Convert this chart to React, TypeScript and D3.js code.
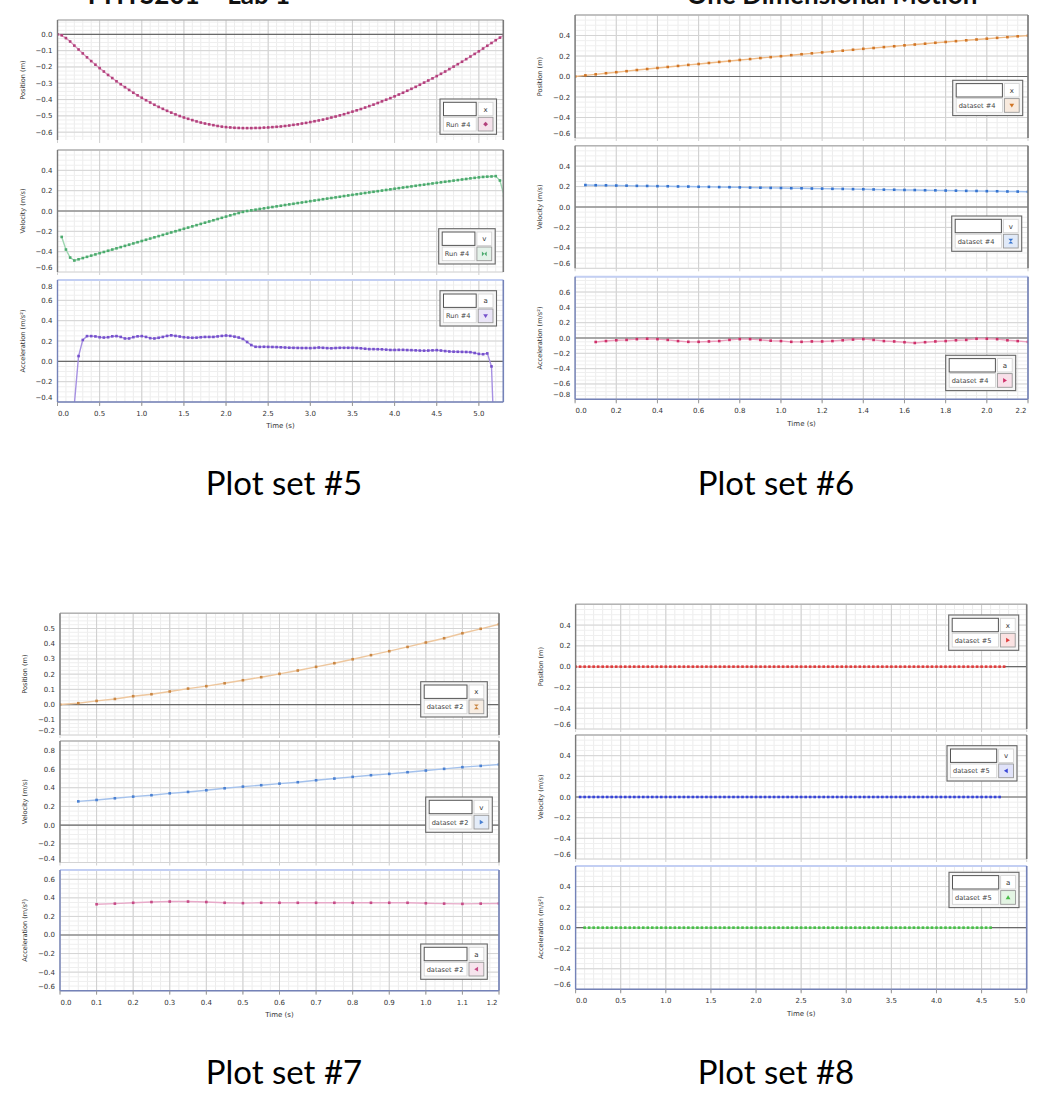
import React from 'react';
import * as d3 from 'd3';

// ---------------- DATA ----------------
// Plot set #5 (Run #4)
const set5PosTime = [0, 0.05]; // start, sample interval
const set5PosValues = [
  0, -0.006, -0.023, -0.044, -0.069, -0.093, -0.117, -0.141, -0.164, -0.186,
  -0.207, -0.228, -0.249, -0.268, -0.288, -0.306, -0.324, -0.341, -0.358, -0.374,
  -0.389, -0.404, -0.418, -0.432, -0.445, -0.457, -0.469, -0.48, -0.491, -0.501,
  -0.51, -0.518, -0.526, -0.534, -0.541, -0.547, -0.552, -0.557, -0.562, -0.566,
  -0.569, -0.571, -0.573, -0.574, -0.575, -0.575,
  -0.575, -0.574, -0.574, -0.572, -0.571, -0.569, -0.567, -0.565, -0.562, -0.559,
  -0.555, -0.552, -0.547, -0.543, -0.538, -0.533, -0.528, -0.523, -0.517, -0.51,
  -0.504, -0.497, -0.49, -0.482, -0.474, -0.466, -0.458, -0.449, -0.44, -0.431,
  -0.421, -0.411, -0.401, -0.391, -0.38, -0.369, -0.358, -0.346, -0.334, -0.322,
  -0.309, -0.296, -0.283, -0.27, -0.256, -0.242, -0.228, -0.213, -0.198, -0.183,
  -0.168, -0.152, -0.136, -0.12, -0.104, -0.087, -0.07, -0.053, -0.036, -0.02, -0.004,
];
const set5VelTime = [0.05, 0.05];
const set5VelValues = [
  -0.255, -0.379, -0.458, -0.487, -0.475, -0.463, -0.451, -0.439, -0.427, -0.415,
  -0.403, -0.391, -0.379, -0.367, -0.355, -0.343, -0.331, -0.319, -0.307, -0.295,
  -0.283, -0.271, -0.259, -0.247, -0.235, -0.223, -0.211, -0.199, -0.187, -0.175,
  -0.163, -0.151, -0.139, -0.127, -0.115, -0.103, -0.091, -0.079, -0.067, -0.055,
  -0.043, -0.031, -0.02, -0.009, 0.0,
  0.007, 0.013, 0.02, 0.026, 0.033, 0.039, 0.046, 0.052, 0.059, 0.065,
  0.071, 0.078, 0.084, 0.09, 0.097, 0.103, 0.109, 0.116, 0.122, 0.128,
  0.134, 0.14, 0.147, 0.153, 0.159, 0.165, 0.171, 0.177, 0.183, 0.189,
  0.195, 0.201, 0.207, 0.213, 0.219, 0.225, 0.231, 0.236, 0.242, 0.248,
  0.254, 0.259, 0.265, 0.271, 0.277, 0.282, 0.288, 0.293, 0.299, 0.304,
  0.31, 0.315, 0.321, 0.326, 0.331, 0.335, 0.338, 0.34, 0.343, 0.3, 0.15,
];
const set5AccTime = [0.2, 0.05];
const set5AccValues = [
  -0.42, 0.052, 0.21, 0.248, 0.248, 0.245, 0.237, 0.234, 0.237, 0.246,
  0.248, 0.24, 0.225, 0.225, 0.238, 0.246, 0.248, 0.24, 0.228, 0.225,
  0.232, 0.24, 0.25, 0.256, 0.25, 0.244, 0.237, 0.234, 0.232, 0.233,
  0.237, 0.24, 0.24, 0.24, 0.245, 0.25, 0.254, 0.25, 0.243, 0.234,
  0.22, 0.19, 0.16, 0.143, 0.142, 0.143, 0.142, 0.141, 0.14, 0.138,
  0.136, 0.134, 0.133, 0.132, 0.131, 0.131, 0.13, 0.132, 0.136, 0.133,
  0.13, 0.128, 0.131, 0.133, 0.133, 0.133, 0.133, 0.131, 0.128, 0.124,
  0.12, 0.12, 0.119, 0.118, 0.115, 0.112, 0.112, 0.113, 0.113, 0.111,
  0.11, 0.108, 0.106, 0.105, 0.106, 0.108, 0.11, 0.106, 0.101, 0.097,
  0.095, 0.094, 0.093, 0.092, 0.09, 0.082, 0.073, 0.07, 0.078, -0.05, -1.2,
];

// Plot set #6 (dataset #4)
const set6PosTime = [0, 0.05];
const set6PosValues = [
  0, 0.011, 0.021, 0.032, 0.042, 0.052, 0.063, 0.073, 0.083, 0.093,
  0.103, 0.113, 0.122, 0.132, 0.142, 0.151, 0.161, 0.17, 0.18, 0.189,
  0.198, 0.208, 0.217, 0.226, 0.235, 0.244, 0.252, 0.261, 0.27, 0.278,
  0.287, 0.295, 0.304, 0.312, 0.32, 0.329, 0.337, 0.345, 0.353, 0.361,
  0.369, 0.377, 0.384, 0.392, 0.399,
];
const set6VelTime = [0.05, 0.05];
const set6VelValues = [
  0.215, 0.213, 0.212, 0.21, 0.209, 0.207, 0.206, 0.204, 0.203, 0.201,
  0.2, 0.198, 0.197, 0.195, 0.194, 0.192, 0.19, 0.189, 0.187, 0.186,
  0.184, 0.183, 0.181, 0.18, 0.178, 0.177, 0.175, 0.174, 0.172, 0.17,
  0.169, 0.167, 0.166, 0.164, 0.163, 0.161, 0.16, 0.158, 0.157, 0.155,
  0.154, 0.152, 0.151, 0.149,
];
const set6AccTime = [0.1, 0.05];
const set6AccValues = [
  -0.052, -0.04, -0.03, -0.025, -0.015, -0.01, -0.015, -0.025, -0.04, -0.05,
  -0.05, -0.045, -0.04, -0.025, -0.015, -0.015, -0.025, -0.035, -0.04, -0.05,
  -0.05, -0.045, -0.045, -0.04, -0.03, -0.02, -0.015, -0.025, -0.04, -0.045,
  -0.055, -0.065, -0.055, -0.045, -0.04, -0.03, -0.025, -0.01, -0.01, -0.015,
  -0.03, -0.04, -0.05,
];

// Plot set #7 (dataset #2)
const set7PosTime = [0, 0.05];
const set7PosValues = [
  0, 0.009, 0.024, 0.037, 0.055, 0.068, 0.086, 0.105, 0.121, 0.14,
  0.16, 0.18, 0.202, 0.224, 0.248, 0.272, 0.298, 0.325, 0.351, 0.379,
  0.408, 0.436, 0.469, 0.498, 0.528,
];
const set7VelTime = [0.05, 0.05];
const set7VelValues = [
  0.254, 0.269, 0.287, 0.305, 0.32, 0.34, 0.355, 0.373, 0.394, 0.412,
  0.427, 0.444, 0.459, 0.48, 0.498, 0.516, 0.534, 0.548, 0.566, 0.584,
  0.602, 0.62, 0.634, 0.649,
];
const set7AccTime = [0.1, 0.05];
const set7AccValues = [
  0.331, 0.338, 0.347, 0.355, 0.36, 0.36, 0.355, 0.347, 0.343, 0.347,
  0.347, 0.347, 0.347, 0.347, 0.347, 0.347, 0.347, 0.347, 0.342, 0.338,
  0.335, 0.338, 0.34,
];

// Plot set #8 (dataset #5) - everything reads 0
const set8PosTime = [0, 0.05];
const set8PosValues = [
  0, 0, 0, 0, 0, 0, 0, 0, 0, 0, 0, 0, 0, 0, 0, 0, 0, 0, 0, 0,
  0, 0, 0, 0, 0, 0, 0, 0, 0, 0, 0, 0, 0, 0, 0, 0, 0, 0, 0, 0,
  0, 0, 0, 0, 0, 0, 0, 0, 0, 0, 0, 0, 0, 0, 0, 0, 0, 0, 0, 0,
  0, 0, 0, 0, 0, 0, 0, 0, 0, 0, 0, 0, 0, 0, 0, 0, 0, 0, 0, 0,
  0, 0, 0, 0, 0, 0, 0, 0, 0, 0, 0, 0, 0, 0, 0, 0,
];
const set8VelTime = [0.05, 0.05];
const set8VelValues = [
  0, 0, 0, 0, 0, 0, 0, 0, 0, 0, 0, 0, 0, 0, 0, 0, 0, 0, 0, 0,
  0, 0, 0, 0, 0, 0, 0, 0, 0, 0, 0, 0, 0, 0, 0, 0, 0, 0, 0, 0,
  0, 0, 0, 0, 0, 0, 0, 0, 0, 0, 0, 0, 0, 0, 0, 0, 0, 0, 0, 0,
  0, 0, 0, 0, 0, 0, 0, 0, 0, 0, 0, 0, 0, 0, 0, 0, 0, 0, 0, 0,
  0, 0, 0, 0, 0, 0, 0, 0, 0, 0, 0, 0, 0, 0,
];
const set8AccTime = [0.1, 0.05];
const set8AccValues = [
  0, 0, 0, 0, 0, 0, 0, 0, 0, 0, 0, 0, 0, 0, 0, 0, 0, 0, 0, 0,
  0, 0, 0, 0, 0, 0, 0, 0, 0, 0, 0, 0, 0, 0, 0, 0, 0, 0, 0, 0,
  0, 0, 0, 0, 0, 0, 0, 0, 0, 0, 0, 0, 0, 0, 0, 0, 0, 0, 0, 0,
  0, 0, 0, 0, 0, 0, 0, 0, 0, 0, 0, 0, 0, 0, 0, 0, 0, 0, 0, 0,
  0, 0, 0, 0, 0, 0, 0, 0, 0, 0, 0,
];

// Tick labels
const set5XTicks = [0, 0.5, 1.0, 1.5, 2.0, 2.5, 3.0, 3.5, 4.0, 4.5, 5.0];
const set6XTicks = [0, 0.2, 0.4, 0.6, 0.8, 1.0, 1.2, 1.4, 1.6, 1.8, 2.0, 2.2];
const set7XTicks = [0, 0.1, 0.2, 0.3, 0.4, 0.5, 0.6, 0.7, 0.8, 0.9, 1.0, 1.1, 1.2];
const set8XTicks = [0, 0.5, 1.0, 1.5, 2.0, 2.5, 3.0, 3.5, 4.0, 4.5, 5.0];

const set5PosTicks = [0, -0.1, -0.2, -0.3, -0.4, -0.5, -0.6];
const set5VelTicks = [0.4, 0.2, 0, -0.2, -0.4, -0.6];
const set5AccTicks = [0.8, 0.6, 0.4, 0.2, 0, -0.2, -0.4];
const set6PosTicks = [0.4, 0.2, 0, -0.2, -0.4, -0.6];
const set6VelTicks = [0.4, 0.2, 0, -0.2, -0.4, -0.6];
const set6AccTicks = [0.6, 0.4, 0.2, 0, -0.2, -0.4, -0.6, -0.8];
const set7PosTicks = [0.5, 0.4, 0.3, 0.2, 0.1, 0, -0.1, -0.2];
const set7VelTicks = [0.8, 0.6, 0.4, 0.2, 0, -0.2, -0.4];
const set7AccTicks = [0.6, 0.4, 0.2, 0, -0.2, -0.4, -0.6];
const set8PosTicks = [0.4, 0.2, 0, -0.2, -0.4, -0.6];
const set8VelTicks = [0.4, 0.2, 0, -0.2, -0.4, -0.6];
const set8AccTicks = [0.4, 0.2, 0, -0.2, -0.4, -0.6];

const axisTitles = ['Position (m)', 'Velocity (m/s)', 'Acceleration (m/s²)'];
const legendLetters = ['x', 'v', 'a'];
const plotSetNames = ['Plot set #5', 'Plot set #6', 'Plot set #7', 'Plot set #8'];
const runNames = ['Run #4', 'dataset #4', 'dataset #2', 'dataset #5'];
const pageTitles = ['PHYS201 – Lab 1', 'One Dimensional Motion'];

// ---------------- LAYOUT ----------------
type PanelCfg = {
  top: number; bottom: number; domain: [number, number]; ticks: number[];
  major: number; minor: number; time: number[]; values: number[];
  color: string; lineColor: string; symbol: string; legend: [number, number];
};
type SetCfg = {
  left: number; right: number; xDomain: [number, number]; xTicks: number[];
  xMajor: number; xMinor: number; name: string; run: string; legendW: number;
  labelX: number; labelY: number; panels: PanelCfg[];
};

const SETS: SetCfg[] = [
  {
    left: 57.5, right: 503.3, xDomain: [0, 5.29], xTicks: set5XTicks, xMajor: 0.5, xMinor: 0.1,
    name: plotSetNames[0], run: runNames[0], legendW: 56.5, labelX: 284, labelY: 494.5,
    panels: [
      { top: 20, bottom: 140, domain: [-0.648, 0.088], ticks: set5PosTicks, major: 0.1, minor: 0.025,
        time: set5PosTime, values: set5PosValues, color: '#b3407c', lineColor: '#dda0c2', symbol: 'diamond', legend: [440, 99] },
      { top: 150, bottom: 272, domain: [-0.6, 0.6], ticks: set5VelTicks, major: 0.2, minor: 0.05,
        time: set5VelTime, values: set5VelValues, color: '#4caa6e', lineColor: '#9dd6b0', symbol: 'bowtieH', legend: [438.7, 228.7] },
      { top: 280, bottom: 402, domain: [-0.4, 0.8], ticks: set5AccTicks, major: 0.2, minor: 0.05,
        time: set5AccTime, values: set5AccValues, color: '#7650cc', lineColor: '#a690e2', symbol: 'triDown', legend: [440, 290.7] },
    ],
  },
  {
    left: 575.1, right: 1028, xDomain: [0, 2.2], xTicks: set6XTicks, xMajor: 0.2, xMinor: 0.05,
    name: plotSetNames[1], run: runNames[1], legendW: 70, labelX: 776, labelY: 494.5,
    panels: [
      { top: 15, bottom: 138, domain: [-0.6, 0.6], ticks: set6PosTicks, major: 0.2, minor: 0.05,
        time: set6PosTime, values: set6PosValues, color: '#d07526', lineColor: '#f0bb86', symbol: 'triDown', legend: [952.7, 80.3] },
      { top: 145.7, bottom: 268.3, domain: [-0.6, 0.6], ticks: set6VelTicks, major: 0.2, minor: 0.05,
        time: set6VelTime, values: set6VelValues, color: '#3573cf', lineColor: '#9dbfee', symbol: 'hourglass', legend: [951.7, 216] },
      { top: 276.7, bottom: 399.3, domain: [-0.8, 0.8], ticks: set6AccTicks, major: 0.2, minor: 0.05,
        time: set6AccTime, values: set6AccValues, color: '#cf2f69', lineColor: '#eca2bf', symbol: 'triRight', legend: [945.7, 355.3] },
    ],
  },
  {
    left: 60, right: 499, xDomain: [0, 1.2], xTicks: set7XTicks, xMajor: 0.1, xMinor: 0.025,
    name: plotSetNames[2], run: runNames[2], legendW: 66.6, labelX: 284, labelY: 1083.5,
    panels: [
      { top: 613.3, bottom: 735, domain: [-0.2, 0.6], ticks: set7PosTicks, major: 0.1, minor: 0.025,
        time: set7PosTime, values: set7PosValues, color: '#c98643', lineColor: '#eec79e', symbol: 'hourglass', legend: [420.7, 681.7] },
      { top: 741, bottom: 862.5, domain: [-0.4, 0.9], ticks: set7VelTicks, major: 0.2, minor: 0.05,
        time: set7VelTime, values: set7VelValues, color: '#4a80d2', lineColor: '#a3c1ec', symbol: 'triRight', legend: [425.7, 797] },
      { top: 870, bottom: 990.7, domain: [-0.6, 0.7], ticks: set7AccTicks, major: 0.2, minor: 0.05,
        time: set7AccTime, values: set7AccValues, color: '#c64a86', lineColor: '#e8aac9', symbol: 'triLeft', legend: [420.7, 944] },
    ],
  },
  {
    left: 575.6, right: 1026.7, xDomain: [0, 5.0], xTicks: set8XTicks, xMajor: 0.5, xMinor: 0.1,
    name: plotSetNames[3], run: runNames[3], legendW: 70, labelX: 776, labelY: 1083.5,
    panels: [
      { top: 604.3, bottom: 729, domain: [-0.6, 0.6], ticks: set8PosTicks, major: 0.2, minor: 0.05,
        time: set8PosTime, values: set8PosValues, color: '#dd3c3c', lineColor: '#f2a5a5', symbol: 'triRight', legend: [948.7, 615] },
      { top: 735, bottom: 859, domain: [-0.6, 0.6], ticks: set8VelTicks, major: 0.2, minor: 0.05,
        time: set8VelTime, values: set8VelValues, color: '#3845d6', lineColor: '#a4aaf0', symbol: 'triLeft', legend: [947, 745.7] },
      { top: 866, bottom: 989.3, domain: [-0.6, 0.6], ticks: set8AccTicks, major: 0.2, minor: 0.05,
        time: set8AccTime, values: set8AccValues, color: '#48bd48', lineColor: '#a4e0a4', symbol: 'triUp', legend: [949, 872.3] },
    ],
  },
];

const FONT = 'DejaVu Sans, Liberation Sans, sans-serif';
const fmt1 = d3.format('.1f');

function stepRange(a: number, b: number, step: number): number[] {
  const out: number[] = [];
  const s = Math.ceil(a / step - 1e-6);
  const e = Math.floor(b / step + 1e-6);
  for (let i = s; i <= e; i++) out.push(+(i * step).toFixed(6));
  return out;
}

function symbolPath(kind: string, s: number): string {
  switch (kind) {
    case 'diamond': return `M0,${-s}L${s},0L0,${s}L${-s},0Z`;
    case 'triDown': return `M${-s},${-s * 0.7}L${s},${-s * 0.7}L0,${s * 0.9}Z`;
    case 'triUp': return `M${-s},${s * 0.7}L${s},${s * 0.7}L0,${-s * 0.9}Z`;
    case 'triRight': return `M${-s * 0.7},${-s}L${s * 0.9},0L${-s * 0.7},${s}Z`;
    case 'triLeft': return `M${s * 0.7},${-s}L${-s * 0.9},0L${s * 0.7},${s}Z`;
    case 'hourglass': return `M${-s},${-s}L${s},${-s}L0,0Z M${-s},${s}L${s},${s}L0,0Z`;
    case 'bowtieH': return `M${-s},${-s}L0,0L${-s},${s}Z M${s},${-s}L0,0L${s},${s}Z`;
    default: return '';
  }
}

function Legend({ x, y, w, letter, run, color, symbol }: any) {
  const pad = 3.5, gap = 2, cellW = 14.8;
  const inW = w - 2 * pad - gap - cellW;
  const r1 = y + 3.3, r2 = y + 18.3, h1 = 13.4, h2 = 13.7;
  const tint = d3.interpolateRgb(color, '#ffffff')(0.85);
  return (
    <g>
      <rect x={x} y={y} width={w} height={35.3} fill="#f6f6f6" stroke="#666" strokeWidth={1.1} />
      <rect x={x + pad} y={r1} width={inW} height={h1} fill="#fff" stroke="#555" strokeWidth={1} />
      <rect x={x + pad + inW + gap} y={r1} width={cellW} height={h1} fill="#fff" stroke="#d0d0d0" strokeWidth={0.8} />
      <text x={x + pad + inW + gap + cellW / 2} y={r1 + h1 / 2 + 2.6} fontSize={7} fontFamily={FONT} fill="#333" textAnchor="middle">{letter}</text>
      <rect x={x + pad} y={r2} width={inW} height={h2} fill="#fff" stroke="#d0d0d0" strokeWidth={0.8} />
      <text x={x + pad + 2.5} y={r2 + h2 / 2 + 2.4} fontSize={6.6} fontFamily={FONT} fill="#444">{run}</text>
      <rect x={x + pad + inW + gap} y={r2} width={cellW} height={h2} fill={tint} stroke="#999" strokeWidth={0.9} />
      <path d={symbolPath(symbol, 2.4)} transform={`translate(${x + pad + inW + gap + cellW / 2},${r2 + h2 / 2})`} fill={color} />
    </g>
  );
}

function Panel({ set, p, idx, setIdx }: { set: SetCfg; p: PanelCfg; idx: number; setIdx: number }) {
  const x = d3.scaleLinear().domain(set.xDomain).range([set.left, set.right]);
  const y = d3.scaleLinear().domain(p.domain).range([p.bottom, p.top]);
  const isAcc = idx === 2;
  const clipId = `clip-${setIdx}-${idx}`;
  const pts: [number, number][] = p.values.map((v, i) => [p.time[0] + i * p.time[1], v]);
  const line = d3.line<[number, number]>().x(d => x(d[0])).y(d => y(d[1]));
  const xMinor = stepRange(set.xDomain[0], set.xDomain[1], set.xMinor);
  const xMajor = stepRange(set.xDomain[0], set.xDomain[1], set.xMajor);
  const yMinor = stepRange(p.domain[0], p.domain[1], p.minor);
  const yMajor = stepRange(p.domain[0], p.domain[1], p.major);
  const L = set.left, R = set.right;
  const sideColor = isAcc ? '#7482b8' : '#7a7a7a';
  const topColor = isAcc ? '#c3cff3' : '#b4b4b4';
  return (
    <g>
      <defs>
        <clipPath id={clipId}>
          <rect x={L} y={p.top} width={R - L} height={p.bottom - p.top} />
        </clipPath>
      </defs>
      <rect x={L} y={p.top} width={R - L} height={p.bottom - p.top} fill="#fff" />
      {xMinor.map(v => (
        <line key={'xm' + v} x1={x(v)} x2={x(v)} y1={p.top} y2={p.bottom} stroke="#ececec" strokeWidth={1} />
      ))}
      {yMinor.map(v => (
        <line key={'ym' + v} x1={L} x2={R} y1={y(v)} y2={y(v)} stroke="#efefef" strokeWidth={1} />
      ))}
      {xMajor.map(v => (
        <line key={'xM' + v} x1={x(v)} x2={x(v)} y1={p.top} y2={p.bottom + 3} stroke="#cfcfcf" strokeWidth={1} />
      ))}
      {yMajor.map(v => (
        <line key={'yM' + v} x1={L} x2={R} y1={y(v)} y2={y(v)} stroke="#d4d4d4" strokeWidth={1} />
      ))}
      <line x1={L} x2={R} y1={y(0)} y2={y(0)} stroke="#6a6a6a" strokeWidth={1.2} />
      <g clipPath={`url(#${clipId})`}>
        <path d={line(pts) || ''} fill="none" stroke={p.lineColor} strokeWidth={1.4} />
        {pts.map((d, i) => (
          <rect key={i} x={x(d[0]) - 1.3} y={y(d[1]) - 1.3} width={2.6} height={2.6} fill={p.color} />
        ))}
      </g>
      <line x1={L} x2={R} y1={p.top} y2={p.top} stroke={topColor} strokeWidth={isAcc ? 2 : 1.4} />
      <line x1={L} x2={L} y1={p.top} y2={p.bottom} stroke={sideColor} strokeWidth={1.4} />
      <line x1={R} x2={R} y1={p.top} y2={p.bottom} stroke={sideColor} strokeWidth={1.6} />
      {isAcc && <line x1={L} x2={R} y1={p.bottom} y2={p.bottom} stroke={sideColor} strokeWidth={1.4} />}
      {p.ticks.map(v => {
        const cy = Math.max(p.top + 6, Math.min(p.bottom - 4.5, y(v)));
        return (
          <text key={'yt' + v} x={L - 5} y={cy + 2.5} fontSize={7} fontFamily={FONT} fill="#333" textAnchor="end">{fmt1(v)}</text>
        );
      })}
      <text transform={`translate(${L - 33},${(p.top + p.bottom) / 2}) rotate(-90)`} fontSize={6.6} fontFamily={FONT} fill="#333" textAnchor="middle">
        {axisTitles[idx]}
      </text>
      <Legend x={p.legend[0]} y={p.legend[1]} w={set.legendW} letter={legendLetters[idx]} run={set.run} color={p.color} symbol={p.symbol} />
      {isAcc && (
        <g>
          {xMajor.map(v => (
            <line key={'tk' + v} x1={x(v)} x2={x(v)} y1={p.bottom} y2={p.bottom + 4} stroke="#999" strokeWidth={1} />
          ))}
          {set.xTicks.map(v => {
            const cx = Math.max(L + 6, Math.min(R - 7, x(v)));
            return (
              <text key={'xt' + v} x={cx} y={p.bottom + 13.8} fontSize={7} fontFamily={FONT} fill="#333" textAnchor="middle">{fmt1(v)}</text>
            );
          })}
          <text x={(L + R) / 2} y={p.bottom + 26.2} fontSize={7} fontFamily={FONT} fill="#333" textAnchor="middle">Time (s)</text>
        </g>
      )}
    </g>
  );
}

export default function App() {
  return (
    <svg width={1056} height={1116} viewBox="0 0 1056 1116" style={{ position: 'absolute', left: 0, top: 0, background: '#fff' }}>
      <rect x={0} y={0} width={1056} height={1116} fill="#fff" />
      <text x={189} y={3.5} fontSize={26} fontWeight="bold" fontFamily="Lato, sans-serif" textAnchor="middle" fill="#111">{pageTitles[0]}</text>
      <text x={832} y={3.5} fontSize={26} fontWeight="bold" fontFamily="Lato, sans-serif" textAnchor="middle" fill="#111">{pageTitles[1]}</text>
      {SETS.map((s, si) => (
        <g key={si}>
          {s.panels.map((p, pi) => (
            <Panel key={pi} set={s} p={p} idx={pi} setIdx={si} />
          ))}
          <text x={s.labelX} y={s.labelY} fontSize={33} fontFamily="Lato, sans-serif" textAnchor="middle" fill="#000">{s.name}</text>
        </g>
      ))}
    </svg>
  );
}
